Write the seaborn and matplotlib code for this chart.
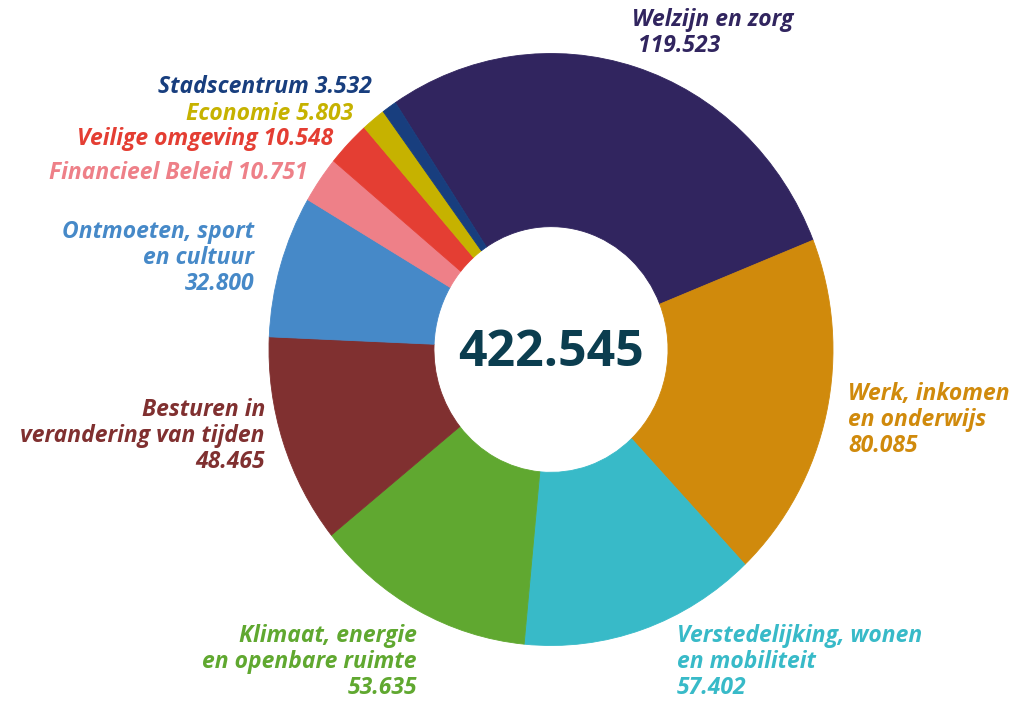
import matplotlib
matplotlib.use("Agg")
import matplotlib.pyplot as plt
import seaborn as sns

# begroting per programma (x 1.000 euro)
categories = [
    "Welzijn en zorg",
    "Werk, inkomen\nen onderwijs",
    "Verstedelijking, wonen\nen mobiliteit",
    "Klimaat, energie\nen openbare ruimte",
    "Besturen in\nverandering van tijden",
    "Ontmoeten, sport\nen cultuur",
    "Financieel Beleid",
    "Veilige omgeving",
    "Economie",
    "Stadscentrum",
]
values = [119523, 80085, 57402, 53635, 48465, 32800, 10751, 10548, 5803, 3532]
value_labels = ["119.523", "80.085", "57.402", "53.635", "48.465",
                "32.800", "10.751", "10.548", "5.803", "3.532"]
total_label = "422.545"

colors = ["#31255F", "#D08A0C", "#38BAC8", "#60A830", "#803030",
          "#4689C8", "#EE8088", "#E43E33", "#C6B200", "#183E7E"]

# label placement in pixels (x, y, ha, separator between name and value)
label_layout = [
    (632, 33, "left", "\n "),
    (848, 420, "left", "\n"),
    (677, 662, "left", "\n"),
    (417, 662, "right", "\n"),
    (265, 436, "right", "\n"),
    (254, 258, "right", "\n"),
    (308, 173, "right", " "),
    (333, 139, "right", " "),
    (353, 114, "right", " "),
    (372, 87, "right", " "),
]

W, H = 1024, 704
CX, CY = 551, 349.5        # donut centre in pixels (from top)
RX, RY = 282, 296          # slightly stretched, as in the reference

sns.set_theme(style="white")
plt.rcParams["font.family"] = ["Open Sans", "DejaVu Sans"]

fig = plt.figure(figsize=(W / 100, H / 100), dpi=100)
ax = fig.add_axes([0, 0, 1, 1])
wedges, _ = ax.pie(
    values,
    colors=colors,
    startangle=123.5,
    counterclock=False,
    radius=1.0,
    wedgeprops=dict(width=0.585, linewidth=0.6),
)
for w, c in zip(wedges, colors):
    w.set_edgecolor(c)
ax.set_aspect("auto")
ax.set_xlim(-CX / RX, (W - CX) / RX)
ax.set_ylim(-(H - CY) / RY, CY / RY)
ax.axis("off")

ax.text(0, -(353 - CY) / RY, total_label, ha="center", va="center",
        fontsize=36, fontweight="bold", color="#0B3D4F")

for name, val, col, (x, y, ha, sep) in zip(categories, value_labels, colors, label_layout):
    fig.text(x / W, 1 - y / H, name + sep + val, ha=ha, va="center", ma=ha,
             fontsize=16.5, fontstyle="italic", fontweight="bold", color=col,
             linespacing=1.12)

fig.savefig("out.png", dpi=100, facecolor="white")
